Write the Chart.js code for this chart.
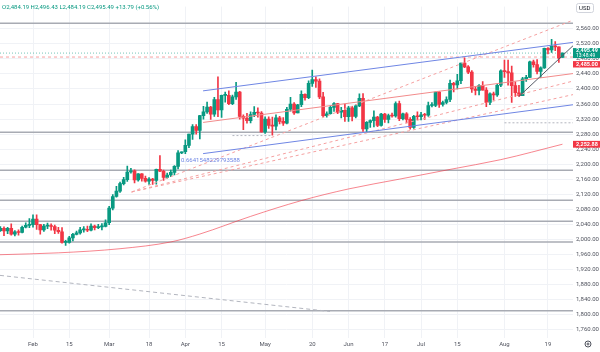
<!DOCTYPE html>
<html>
<head>
<meta charset="utf-8">
<script src="https://cdn.jsdelivr.net/npm/chart.js@4"></script>
<style>
  html, body { margin: 0; padding: 0; background: #fff; }
  canvas { display: block; }
</style>
</head>
<body>
<canvas id="chart" width="600" height="352"></canvas>
<script>
// daily candles, index 0 = 1 Feb, first visible candle is 19 Jan (-9)
const firstIndex = -9;
const opens = [
  2023, 2029, 2022, 2029, 2014, 2020, 2018, 2032, 2037,
  2039, 2054, 2039, 2025, 2035, 2035, 2034, 2024, 2020, 1992,
  1992, 2004, 2013, 2017, 2025, 2026, 2024, 2035, 2031, 2033,
  2034, 2044, 2083, 2114, 2128, 2148, 2159, 2179, 2182, 2158,
  2174, 2162, 2155, 2160, 2157, 2186, 2181, 2165, 2171, 2178,
  2194, 2230, 2233, 2250, 2280, 2300, 2290, 2329, 2339, 2352,
  2333, 2372, 2344, 2383, 2383, 2361, 2379, 2392, 2327, 2322,
  2316, 2332, 2338, 2336, 2286, 2320, 2303, 2301, 2323, 2314,
  2309, 2346, 2360, 2336, 2358, 2386, 2377, 2415, 2425, 2421,
  2379, 2329, 2334, 2351, 2361, 2338, 2343, 2326, 2350, 2327,
  2355, 2375, 2294, 2311, 2316, 2325, 2303, 2333, 2319, 2329,
  2328, 2361, 2321, 2334, 2319, 2298, 2327, 2326, 2331, 2330,
  2356, 2356, 2392, 2359, 2364, 2372, 2415, 2411, 2422, 2469,
  2459, 2445, 2400, 2396, 2409, 2397, 2364, 2387, 2384, 2410,
  2448, 2446, 2443, 2409, 2390, 2382, 2427, 2431, 2472, 2465,
  2447, 2456, 2508, 2504, 2514, 2512, 2484.19
];
const highs = [
  2034, 2033, 2032, 2041, 2023, 2025, 2035, 2044, 2055,
  2065, 2065, 2040, 2040, 2043, 2041, 2038, 2032, 2031, 1997,
  2008, 2016, 2022, 2032, 2034, 2035, 2041, 2038, 2040, 2042,
  2052, 2088, 2119, 2141, 2152, 2165, 2195, 2189, 2185, 2175,
  2175, 2168, 2164, 2162, 2187, 2223, 2184, 2176, 2184, 2196,
  2236, 2233, 2265, 2280, 2305, 2305, 2330, 2354, 2365, 2354,
  2378, 2432, 2384, 2392, 2395, 2384, 2418, 2394, 2331, 2335,
  2339, 2353, 2350, 2340, 2326, 2326, 2325, 2331, 2327, 2324,
  2351, 2378, 2364, 2359, 2395, 2387, 2422, 2450, 2432, 2427,
  2391, 2339, 2355, 2364, 2362, 2351, 2360, 2354, 2354, 2358,
  2387, 2388, 2313, 2318, 2342, 2327, 2335, 2335, 2333, 2336,
  2366, 2368, 2336, 2337, 2324, 2330, 2339, 2338, 2335, 2365,
  2364, 2392, 2393, 2368, 2379, 2424, 2418, 2439, 2469, 2483,
  2462, 2449, 2407, 2412, 2420, 2404, 2390, 2392, 2413, 2451,
  2477, 2477, 2461, 2419, 2410, 2431, 2436, 2474, 2477, 2478,
  2459, 2509, 2510, 2532, 2526, 2512, 2496.43
];
const lows = [
  2021, 2010, 2015, 2011, 2009, 2011, 2017, 2030, 2031,
  2032, 2026, 2014, 2021, 2028, 2024, 2015, 2016, 1990, 1984,
  1990, 1996, 2012, 2014, 2019, 2020, 2022, 2025, 2028, 2025,
  2033, 2039, 2078, 2112, 2125, 2145, 2154, 2176, 2150, 2155,
  2155, 2152, 2146, 2146, 2147, 2180, 2157, 2163, 2167, 2171,
  2187, 2228, 2228, 2244, 2266, 2280, 2267, 2320, 2335, 2319,
  2327, 2326, 2324, 2365, 2358, 2358, 2372, 2320, 2292, 2309,
  2310, 2326, 2325, 2285, 2282, 2295, 2277, 2291, 2307, 2303,
  2307, 2341, 2332, 2336, 2353, 2370, 2374, 2407, 2404, 2374,
  2326, 2325, 2333, 2340, 2334, 2323, 2314, 2314, 2315, 2323,
  2353, 2287, 2286, 2298, 2299, 2300, 2301, 2311, 2310, 2325,
  2325, 2316, 2318, 2310, 2293, 2295, 2318, 2318, 2319, 2327,
  2352, 2353, 2351, 2354, 2360, 2366, 2392, 2400, 2414, 2457,
  2441, 2391, 2384, 2384, 2397, 2353, 2358, 2370, 2380, 2406,
  2431, 2410, 2364, 2380, 2380, 2382, 2420, 2430, 2458, 2440,
  2430, 2455, 2493, 2497, 2502, 2471, 2484.19
];
const closes = [
  2029, 2022, 2029, 2014, 2020, 2018, 2032, 2037, 2039,
  2054, 2039, 2025, 2035, 2035, 2034, 2024, 2020, 1992, 1992,
  2004, 2013, 2017, 2025, 2026, 2024, 2035, 2031, 2033, 2034,
  2044, 2083, 2114, 2128, 2148, 2159, 2179, 2182, 2158, 2174,
  2162, 2155, 2160, 2157, 2186, 2181, 2165, 2171, 2178, 2194,
  2230, 2233, 2250, 2280, 2300, 2290, 2329, 2339, 2352, 2333,
  2372, 2344, 2383, 2383, 2361, 2379, 2392, 2327, 2322, 2316,
  2332, 2338, 2336, 2286, 2320, 2303, 2301, 2323, 2314, 2309,
  2346, 2360, 2336, 2358, 2386, 2377, 2415, 2425, 2421, 2379,
  2329, 2334, 2351, 2361, 2338, 2343, 2326, 2350, 2327, 2355,
  2375, 2294, 2311, 2316, 2325, 2303, 2333, 2319, 2329, 2328,
  2361, 2321, 2334, 2319, 2298, 2327, 2326, 2331, 2330, 2356,
  2356, 2392, 2359, 2364, 2372, 2415, 2411, 2422, 2469, 2459,
  2445, 2400, 2396, 2409, 2397, 2364, 2387, 2384, 2410, 2448,
  2446, 2443, 2409, 2390, 2382, 2427, 2431, 2472, 2465, 2447,
  2456, 2508, 2504, 2514, 2512, 2481.70, 2495.49
];

const timeTicks = [0, 10, 21, 32, 42, 52, 64, 77, 87, 97, 107, 117, 130, 142];
const timeLabels = ['Feb', '15', 'Mar', '18', 'Apr', '15', 'May', '20', 'Jun', '17', 'Jul', '15', 'Aug', '19'];
const priceTicks = [1760, 1800, 1840, 1880, 1920, 1960, 2000, 2040, 2080, 2120, 2160,
  2200, 2240, 2280, 2320, 2360, 2400, 2440, 2480, 2520, 2560];

// moving average, read at a few dates
const maPoints = [[-9.1, 1959], [7, 1964], [24, 1975], [38, 1993], [46, 2014], [60, 2061],
  [74, 2103], [87, 2134], [101, 2160], [115, 2186], [129, 2212], [146, 2253]];
const maLast = 2252.88;

// drawings
const levels = [2575, 2285, 2184, 2104, 2048, 1993, 1810];
const alertLevel = 2485.00;
const channelUpper = [[46.9, 2395], [148.9, 2524]];
const channelMid = [[46.9, 2311], [148.9, 2441]];
const channelLower = [[46.9, 2228], [148.9, 2358]];
const fanA = [[27.2, 2126], [148.9, 2583]];
const fanB = [[27.2, 2126], [148.9, 2421]];
const fanC = [[27.2, 2126], [148.9, 2385]];
const trendUp = [[134, 2380], [148.9, 2515]];
const trendDown = [[-9.1, 1904], [81.9, 1808]];
const flatA = [[55, 2276], [65.7, 2276]];
const flatB = [[130, 2310], [148.9, 2310]];
const fibLabel = '0.6641548229793588';
const fibLabelAt = [40.8, 2209.6];

const X_MIN = -9.1, X_MAX = 148.9;
const UP = '#089981', DOWN = '#f23645';

const idx = opens.map((_, i) => firstIndex + i);
const candleColors = opens.map((o, i) => closes[i] >= o ? UP : DOWN);

function fmt(v) {
  return v.toLocaleString('en-US', { minimumFractionDigits: 2, maximumFractionDigits: 2 });
}
function pts(arr) {
  return arr.map(p => ({ x: p[0], y: p[1] }));
}
function seg(arr, color, width, dash, order) {
  return {
    type: 'line', data: pts(arr), borderColor: color, borderWidth: width,
    borderDash: dash || [], pointRadius: 0, fill: false, tension: 0, order: order
  };
}

const datasets = [];
levels.forEach(v => datasets.push(seg([[X_MIN, v], [X_MAX, v]], '#a8abb3', 1.5, null, 30)));
datasets.push(seg([[X_MIN, alertLevel], [X_MAX, alertLevel]], '#f5a0a0', 1, [3, 3], 29));
datasets.push(seg([[X_MIN, closes[closes.length - 1]], [X_MAX, closes[closes.length - 1]]],
  'rgba(8,153,129,0.55)', 1, [1, 2], 29));
datasets.push({
  type: 'line', data: pts(maPoints), borderColor: 'rgba(242,54,69,0.6)', borderWidth: 1,
  pointRadius: 0, fill: false, cubicInterpolationMode: 'monotone', order: 25
});
datasets.push({
  type: 'bar', order: 21, grouped: false, barThickness: 1,
  data: idx.map((x, i) => ({ x: x, y: [lows[i], highs[i]] })),
  backgroundColor: candleColors
});
datasets.push({
  type: 'bar', order: 20, grouped: false, barThickness: 3, minBarLength: 1,
  data: idx.map((x, i) => ({ x: x, y: [Math.min(opens[i], closes[i]), Math.max(opens[i], closes[i])] })),
  backgroundColor: candleColors
});
datasets.push(seg(channelUpper, '#6f86e4', 1, null, 5));
datasets.push(seg(channelLower, '#6f86e4', 1, null, 5));
datasets.push(seg(channelMid, '#f28b8b', 1, null, 5));
datasets.push(seg(fanA, '#f5a0a0', 1, [3, 3], 6));
datasets.push(seg(fanB, '#f5a0a0', 1, [3, 3], 6));
datasets.push(seg(fanC, '#f5a0a0', 1, [3, 3], 6));
datasets.push(seg(trendUp, '#555a66', 1, null, 4));
datasets.push(seg(trendDown, '#b2b5be', 1, [4, 3], 6));
datasets.push(seg(flatA, '#b2b5be', 1, [2, 2], 6));
datasets.push(seg(flatB, '#b2b5be', 1, [2, 2], 6));

const overlay = {
  id: 'overlay',
  afterDraw(chart) {
    const { ctx, chartArea, scales: { x, y } } = chart;
    const n = closes.length - 1;
    const right = chartArea.right;
    ctx.save();
    ctx.textBaseline = 'middle';

    // OHLC legend
    const chg = closes[n] - closes[n - 1];
    const legend = 'O' + fmt(opens[n]) + ' H' + fmt(highs[n]) + ' L' + fmt(lows[n]) +
      ' C' + fmt(closes[n]) + ' +' + chg.toFixed(2) + ' (+' + (chg / closes[n - 1] * 100).toFixed(2) + '%)';
    ctx.font = '6px Roboto';
    ctx.fillStyle = UP;
    ctx.textAlign = 'left';
    ctx.fillText(legend, 2, 7);

    // fib value label
    ctx.fillStyle = '#6f86e4';
    ctx.fillText(fibLabel, x.getPixelForValue(fibLabelAt[0]), y.getPixelForValue(fibLabelAt[1]));

    // currency button
    ctx.strokeStyle = '#d1d4dc';
    ctx.lineWidth = 1;
    ctx.beginPath();
    ctx.roundRect(576.5, 3.5, 17, 9, 2);
    ctx.stroke();
    ctx.fillStyle = '#131722';
    ctx.fillText('USD', 579, 8.2);

    // last price tag with countdown
    const py = y.getPixelForValue(closes[n]);
    ctx.fillStyle = UP;
    ctx.fillRect(right, py - 5, 600 - right, 10);
    ctx.fillStyle = '#fff';
    ctx.font = 'bold 5.5px Roboto';
    ctx.fillText(fmt(closes[n]), right + 3, py - 2.2);
    ctx.font = '5px Roboto';
    ctx.fillText('13:48:49', right + 3, py + 2.6);

    // alert level tag, pushed below the last price tag
    const ay = py + 5 + 3 + 3.2;
    ctx.fillStyle = DOWN;
    ctx.fillRect(right, ay - 3.2, 600 - right, 6.4);
    ctx.fillStyle = '#fff';
    ctx.font = 'bold 5.5px Roboto';
    ctx.fillText(fmt(alertLevel), right + 3, ay + 0.2);

    // moving average tag
    const my = y.getPixelForValue(maLast);
    ctx.fillStyle = DOWN;
    ctx.fillRect(right, my - 3.4, 600 - right, 6.8);
    ctx.fillStyle = '#fff';
    ctx.fillText(fmt(maLast), right + 3, my + 0.2);

    // settings icon
    ctx.strokeStyle = '#50535e';
    ctx.beginPath();
    ctx.arc(588, 344, 3, 0, Math.PI * 2);
    ctx.stroke();
    ctx.beginPath();
    ctx.arc(588, 344, 1, 0, Math.PI * 2);
    ctx.stroke();
    ctx.restore();
  }
};

new Chart(document.getElementById('chart'), {
  type: 'bar',
  data: { datasets: datasets },
  plugins: [overlay],
  options: {
    responsive: false,
    animation: false,
    events: [],
    layout: { padding: 0 },
    plugins: { legend: { display: false }, tooltip: { enabled: false } },
    scales: {
      x: {
        type: 'linear', min: X_MIN, max: X_MAX, offset: false,
        grid: { color: '#f0f2f6', drawTicks: false, offset: false },
        border: { display: false },
        afterBuildTicks: s => { s.ticks = timeTicks.map(v => ({ value: v })); },
        afterFit: s => { s.height = 14; },
        ticks: {
          autoSkip: false, maxRotation: 0, padding: 3, color: '#50535e',
          font: { family: 'Roboto', size: 6 },
          callback: v => timeLabels[timeTicks.indexOf(v)]
        }
      },
      y: {
        type: 'linear', position: 'right', min: 1737.4, max: 2619.2,
        grid: { color: '#f0f2f6', drawTicks: false },
        border: { display: false },
        afterBuildTicks: s => { s.ticks = priceTicks.map(v => ({ value: v })); },
        afterFit: s => { s.width = 27; },
        ticks: {
          padding: 3, color: '#50535e',
          font: { family: 'Roboto', size: 6 },
          callback: v => fmt(v)
        }
      }
    }
  }
});
</script>
</body>
</html>
